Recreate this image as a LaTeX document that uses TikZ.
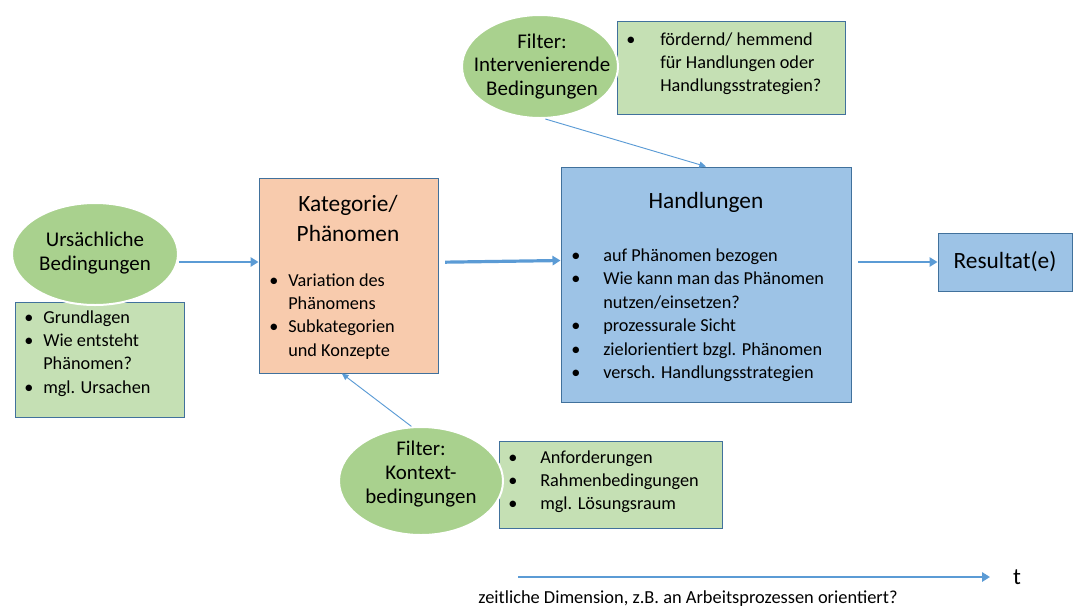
\documentclass[tikz,border=0pt]{standalone}
\usepackage{fontspec}
\setmainfont{Carlito}
\usetikzlibrary{shapes.geometric,arrows.meta,positioning}

\definecolor{ellgreen}{HTML}{A9D18E}
\definecolor{boxgreen}{HTML}{C5E0B4}
\definecolor{handblue}{HTML}{9DC3E6}
\definecolor{katorange}{HTML}{F8CBAD}
\definecolor{rimblue}{HTML}{41719C}
\definecolor{arrblue}{HTML}{5B9BD5}

\newcommand{\pxl}{0.75pt}
% bullet and hanging indent for the lists
\newcommand{\itm}[1]{\makebox[#1][l]{•}}
\newcommand{\cnt}[1]{\hspace*{#1}}

\begin{document}
\begin{tikzpicture}[x=\pxl, y=-\pxl,
    ell/.style={ellipse, fill=ellgreen, draw=white, line width=1.5pt, inner sep=0pt},
    gbox/.style={rectangle, draw=rimblue, line width=0.75pt, fill=boxgreen, inner sep=0pt},
    bbox/.style={gbox, fill=handblue},
    obox/.style={gbox, fill=katorange},
    elltxt/.style={align=center, anchor=base, inner sep=0pt, font=\fontsize{15.7}{17.8}\selectfont},
    head/.style={align=center, anchor=base, inner sep=0pt, font=\fontsize{17.5}{22.5}\selectfont},
    list/.style={align=left, anchor=base west, inner sep=0pt, font=\fontsize{13.7}{17.5}\selectfont},
    arr/.style={draw=arrblue, line width=2pt, -{Triangle[length=6pt,width=7pt]}},
    farr/.style={draw=arrblue, line width=0.7pt, -{Triangle[length=5pt,width=4.5pt]}}
]
    \useasboundingbox (0,0) rectangle (1073,611);

    % boxes
    \node[gbox, minimum width=228*\pxl, minimum height=93*\pxl] (boxint) at (731,67.5) {};
    \node[bbox, minimum width=290*\pxl, minimum height=235*\pxl] (handl) at (706,284.5) {};
    \node[obox, minimum width=179*\pxl, minimum height=195*\pxl] (kat) at (348.5,275.5) {};
    \node[gbox, minimum width=169*\pxl, minimum height=115*\pxl] (boxurs) at (99.5,359.5) {};
    \node[gbox, minimum width=223*\pxl, minimum height=87*\pxl] (boxkon) at (610.5,484.5) {};
    \node[bbox, minimum width=134*\pxl, minimum height=58*\pxl,
          font=\fontsize{17.5}{21}\selectfont] (res) at (1005,262) {Resultat(e)};

    % ellipses
    \node[ell, minimum width=156*\pxl, minimum height=103*\pxl] (ellint) at (540,66.5) {};
    \node[ell, minimum width=166*\pxl, minimum height=102*\pxl] (ellurs) at (95,254) {};
    \node[ell, minimum width=164*\pxl, minimum height=108*\pxl] (ellkon) at (421,481) {};

    % base = baseline of the last line
    \node[elltxt] (ellinttxt) at (542,95.5) {Filter:\\Intervenierende\\Bedingungen};
    \node[elltxt] (ellurstxt) at (95,270) {Ursächliche\\Bedingungen};
    \node[elltxt] (ellkontxt) at (421,503) {Filter:\\Kontext-\\bedingungen};

    % titles
    \node[head] (kathead) at (348,241) {Kategorie/\\Phänomen};
    \node[head] (handlhead) at (706,208) {Handlungen};

    % lists
    \node[list] (intlist) at (626,91.7) {\itm{25.5pt}fördernd/ hemmend\\
        \cnt{25.5pt}für Handlungen oder\\\cnt{25.5pt}Handlungsstrategien?};
    \node[list, font=\fontsize{13.7}{17.6}\selectfont] (handllist) at (571,378.5) {\itm{24pt}auf Phänomen bezogen\\
        \itm{24pt}Wie kann man das Phänomen\\\cnt{24pt}nutzen/einsetzen?\\
        \itm{24pt}prozessurale Sicht\\\itm{24pt}zielorientiert bzgl. Phänomen\\
        \itm{24pt}versch. Handlungsstrategien};
    \node[list] (katlist) at (269,356) {\itm{14.25pt}Variation des\\\cnt{14.25pt}Phänomens\\
        \itm{14.25pt}Subkategorien\\\cnt{14.25pt}und Konzepte};
    \node[list] (urslist) at (24,393) {\itm{14.25pt}Grundlagen\\\itm{14.25pt}Wie entsteht\\
        \cnt{14.25pt}Phänomen?\\\itm{14.25pt}mgl. Ursachen};
    \node[list] (konlist) at (508,509.7) {\itm{24pt}Anforderungen\\\itm{24pt}Rahmenbedingungen\\
        \itm{24pt}mgl. Lösungsraum};

    % connectors
    \draw[arr] ([yshift=-6pt]ellurs.east) -- ([yshift=-6pt]ellurs.east -| kat.west);
    \draw[arr, line width=2.4pt] ([xshift=5pt,yshift=10pt]kat.east) -- ([yshift=18pt]handl.west);
    \draw[arr] ([xshift=5pt]handl.east |- res.west) -- (res.west);
    \draw[farr] ([xshift=4pt]ellint.south) -- (handl.north);
    \draw[farr] (ellkon.100) -- ([xshift=-5pt]kat.south);

    % time axis
    \coordinate (t0) at (518,577);
    \coordinate (t1) at (990,577);
    \node[font=\fontsize{17.5}{21}\selectfont] (tlab) at (1017,577) {t};
    \draw[arr, line width=1.8pt] (t0) -- (t1);
    \node[anchor=base, inner sep=0pt, font=\fontsize{13.8}{16}\selectfont] (caption) at (688,603)
        {zeitliche Dimension, z.B. an Arbeitsprozessen orientiert?};
\end{tikzpicture}
\end{document}
